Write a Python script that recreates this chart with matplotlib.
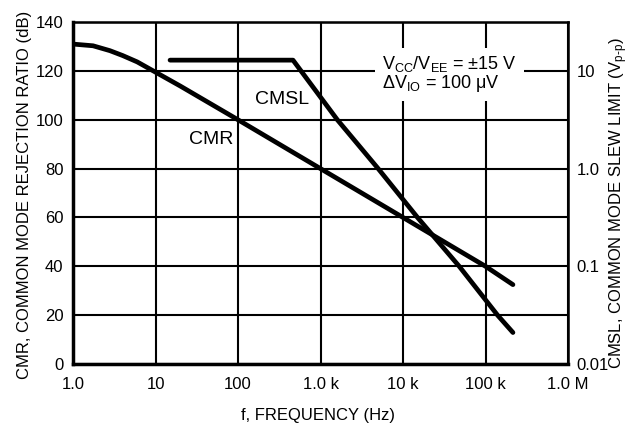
import matplotlib.pyplot as plt
from matplotlib import font_manager

# fonts: narrow helvetica look if available
names = {f.name for f in font_manager.fontManager.ttflist}
fam = 'Liberation Sans Narrow' if 'Liberation Sans Narrow' in names else 'Liberation Sans'
plt.rcParams['font.family'] = [fam, 'DejaVu Sans']
plt.rcParams['mathtext.fontset'] = 'custom'
plt.rcParams['mathtext.rm'] = fam
plt.rcParams['mathtext.it'] = fam
plt.rcParams['mathtext.bf'] = fam

# CMR, common mode rejection ratio (dB) vs frequency (Hz)
cmr_freq = [1.0, 1.75, 2.8, 4.0, 6.0, 10, 20, 100, 1000, 10000, 100000, 215000]
cmr_db = [131, 130.3, 128.3, 126.3, 123.7, 119.5, 113.8, 100, 80, 60, 40, 32.5]

# CMSL, common mode slew limit (Vp-p) vs frequency (Hz)
cmsl_freq = [15, 464, 1600, 5000, 15000, 48000, 140000, 215000]
cmsl_v = [12.9, 12.9, 3.16, 1.0, 0.316, 0.1, 0.0316, 0.021]

x_ticks = [1, 10, 100, 1e3, 1e4, 1e5, 1e6]
x_labels = ['1.0', '10', '100', '1.0 k', '10 k', '100 k', '1.0 M']
y_ticks = [0, 20, 40, 60, 80, 100, 120, 140]
y2_ticks = [0.01, 0.1, 1.0, 10]
y2_labels = ['0.01', '0.1', '1.0', '10']

fig = plt.figure(figsize=(6.44, 4.25), dpi=100)
ax = fig.add_axes([0.1134, 0.1435, 0.7686, 0.8045])
ax.set_xscale('log')
ax.set_xlim(1, 1e6)
ax.set_ylim(0, 140)
ax.set_xticks(x_ticks)
ax.set_xticklabels(x_labels)
ax.set_yticks(y_ticks)
ax.minorticks_off()
ax.tick_params(length=0, labelsize=12)
ax.tick_params(axis='y', pad=7)
ax.tick_params(axis='x', pad=9)
ax.grid(True, color='black', linewidth=1.5)
ax.set_axisbelow(True)
for s in ['left', 'bottom']:
    ax.spines[s].set_linewidth(2.5)
for s in ['top', 'right']:
    ax.spines[s].set_linewidth(1.8)

ax2 = ax.twinx()
ax2.set_yscale('log')
ax2.set_ylim(0.01, 10 ** 1.5)
ax2.set_yticks(y2_ticks)
ax2.set_yticklabels(y2_labels)
ax2.minorticks_off()
ax2.tick_params(length=0, labelsize=12, pad=6)

ax.plot(cmr_freq, cmr_db, color='black', linewidth=3.4, solid_capstyle='round', zorder=3)
ax2.plot(cmsl_freq, cmsl_v, color='black', linewidth=3.4, solid_capstyle='round', zorder=3)

ax.text(47, 92, 'CMR', fontsize=14, ha='center', va='center')
ax.text(340, 108.5, 'CMSL', fontsize=14, ha='center', va='center')
ax.text(5600, 118.8,
        'V$_{\\mathrm{CC}}$/V$_{\\mathrm{EE}}$ = \u00b115 V\n\u0394V$_{\\mathrm{IO}}$ = 100 \u03bcV',
        fontsize=13, ha='left', va='center', linespacing=0.95,
        bbox=dict(facecolor='white', edgecolor='none', pad=5), zorder=4)

ax.set_xlabel('f, FREQUENCY (Hz)', fontsize=12)
ax.xaxis.set_label_coords(0.495, -0.129)
ax.set_ylabel('CMR, COMMON MODE REJECTION RATIO (dB)', fontsize=12)
ax.yaxis.set_label_coords(-0.083, 0.494)
ax2.set_ylabel('CMSL, COMMON MODE SLEW LIMIT (V$_{\\mathrm{p\\text{-}p}}$)', fontsize=12)
ax2.yaxis.set_label_coords(1.079, 0.47)

fig.savefig('out.png', dpi=100)
